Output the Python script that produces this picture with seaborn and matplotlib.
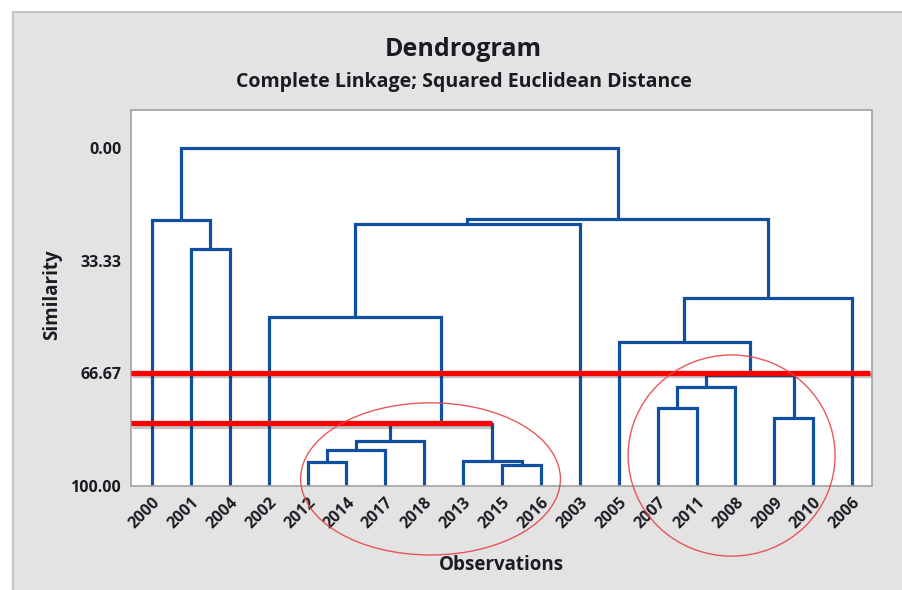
import numpy as np
import pandas as pd
import matplotlib
matplotlib.use('Agg')
import matplotlib.pyplot as plt
import matplotlib.patheffects as pe
from matplotlib.patches import Ellipse, Rectangle
import seaborn as sns

# ---- data ----
leaves = ['2000', '2001', '2004', '2002', '2012', '2014', '2017', '2018', '2013',
          '2015', '2016', '2003', '2005', '2007', '2011', '2008', '2009', '2010', '2006']

link_names = ['A', 'B', 'C1', 'C2', 'C3', 'D1', 'D2', 'G', 'H', 'I',
              'E1', 'E2', 'F1', 'E3', 'J', 'K', 'L', 'ROOT']
link_left = ['2001', '2000', '2012', 'C1', 'C2', '2015', '2013', 'C3', '2002', 'H',
             '2007', 'E1', '2009', 'E2', '2005', 'J', 'I', 'B']
link_right = ['2004', 'A', '2014', '2017', '2018', '2016', 'D1', 'D2', 'G', '2003',
              '2011', '2008', '2010', 'F1', 'E3', '2006', 'K', 'L']
link_similarity = [29.9, 21.3, 92.8, 89.3, 86.6, 93.8, 92.5, 81.7, 49.9, 22.4,
                   76.9, 70.6, 79.8, 67.2, 57.4, 44.4, 21.0, 0.0]

y_ticks = [0.0, 33.33, 66.67, 100.0]
y_ticklabels = ['0.00', '33.33', '66.67', '100.00']
cut_levels = [66.67, 81.5]

BLUE = '#114fa3'
RED = '#ff0000'
TEXT = '#1b1b24'

sns.set_theme(style='white')
plt.rcParams['font.family'] = ['Open Sans', 'DejaVu Sans']


def main():
    # positions / heights of every node
    pos = {leaf: float(i) for i, leaf in enumerate(leaves)}
    height = {leaf: 100.0 for leaf in leaves}
    rows = []
    for name, l, r, s in zip(link_names, link_left, link_right, link_similarity):
        xs = [pos[l], pos[l], pos[r], pos[r]]
        ys = [height[l], s, s, height[r]]
        for k, (x, y) in enumerate(zip(xs, ys)):
            rows.append({'link': name, 'order': k, 'x': x, 'y': y})
        pos[name] = (pos[l] + pos[r]) / 2
        height[name] = s
    df = pd.DataFrame(rows)

    fig = plt.figure(figsize=(9.03, 5.90), dpi=100, facecolor='white')
    fig.patches.append(Rectangle((13 / 903, -0.01), 1.0, 1 - 12 / 590 + 0.01,
                                 transform=fig.transFigure, facecolor='#e3e3e3',
                                 edgecolor='#c4c4c4', lw=1.5, zorder=-5))
    ax = fig.add_axes([131 / 903, 1 - 486 / 590, (872 - 131) / 903, (486 - 110) / 590])
    ax.set_facecolor('white')

    sns.lineplot(data=df, x='x', y='y', units='link', estimator=None, sort=False,
                 color=BLUE, lw=2.3, ax=ax, legend=False, solid_joinstyle='miter')

    xlim = (-0.54, 18.51)
    ax.set_xlim(*xlim)
    ax.set_ylim(100, -11.2)

    # cut lines
    shadow = [pe.SimpleLineShadow(offset=(0.5, -1.5), alpha=0.25), pe.Normal()]
    ax.hlines(cut_levels[0], xlim[0], xlim[1] - 0.05, color=RED, lw=3.8, zorder=5,
              path_effects=shadow)
    ax.hlines(cut_levels[1], xlim[0], pos['D2'], color=RED, lw=3.8, zorder=5,
              path_effects=shadow)

    # hand-drawn circles around the clusters
    for cx, cy, w, h in [(7.16, 97.9, 6.68, 45.0), (14.90, 91.0, 5.32, 59.5)]:
        ax.add_patch(Ellipse((cx, cy), w, h, fill=False, edgecolor='#e8454b',
                             lw=1.0, alpha=0.9, clip_on=False, zorder=6))

    ax.set_xticks(range(len(leaves)))
    ax.set_xticklabels(leaves, rotation=45, ha='right', rotation_mode='anchor',
                       fontsize=11.5, fontweight='bold', color=TEXT)
    ax.set_yticks(y_ticks)
    ax.set_yticklabels(y_ticklabels, fontsize=11.5, fontweight='bold', color=TEXT)
    ax.tick_params(axis='both', length=4, width=1, color='#a0a0a0', pad=3)
    ax.tick_params(axis='x', pad=2)
    for sp in ax.spines.values():
        sp.set_color('#a8a8a8')
        sp.set_linewidth(1.3)

    ax.set_xlabel('Observations', fontsize=13.5, fontweight='bold', color=TEXT)
    ax.set_ylabel('Similarity', fontsize=13.5, fontweight='bold', color=TEXT)
    ax.xaxis.set_label_coords(0.5, -0.183)
    ax.yaxis.set_label_coords(-0.093, 0.51)

    fig.text(463 / 903, 1 - 50 / 590, 'Dendrogram', ha='center', va='center',
             fontsize=18, fontweight='bold', color=TEXT)
    fig.text(464 / 903, 1 - 82 / 590, 'Complete Linkage; Squared Euclidean Distance',
             ha='center', va='center', fontsize=14, fontweight='bold', color=TEXT)

    fig.savefig('out.png', dpi=100, facecolor=fig.get_facecolor())
    plt.close(fig)


if __name__ == '__main__':
    main()
